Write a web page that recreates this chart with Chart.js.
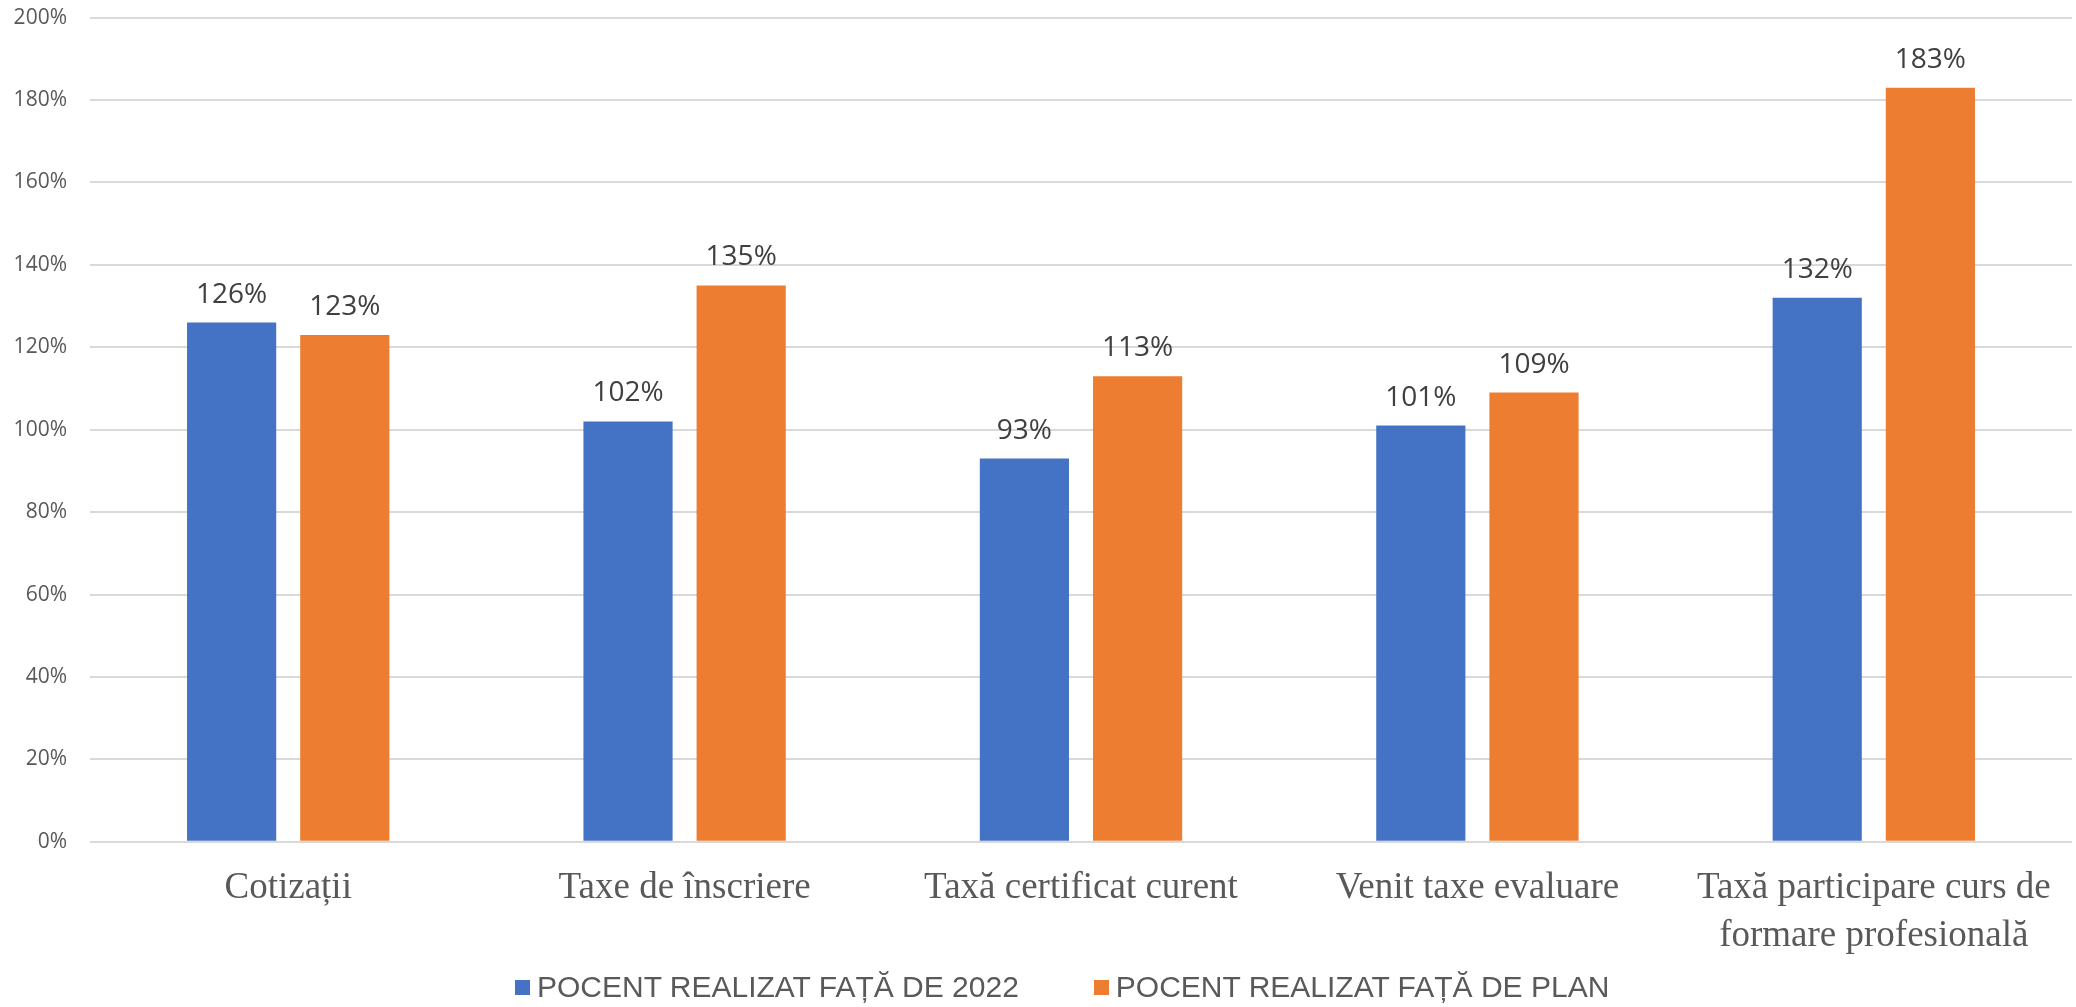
<!DOCTYPE html>
<html>
<head>
<meta charset="utf-8">
<script src="https://cdn.jsdelivr.net/npm/chart.js@4.4.1/dist/chart.umd.min.js"></script>
<style>
  html, body { margin: 0; padding: 0; background: #fff; overflow: hidden; }
  #wrap { position: relative; width: 2076px; height: 1007px; overflow: hidden; }
  #zona { position: absolute; left: 0; top: -18px; width: 2076px; height: 1025px; }
  #legenda { position: absolute; left: 515px; top: 970px; display: flex; align-items: center;
    font-family: "Liberation Sans", Arial, sans-serif; font-size: 30px; color: #595959; white-space: nowrap; }
  #legenda .item { display: flex; align-items: center; margin-right: 75px; }
  #legenda .box { width: 15px; height: 15px; margin-right: 7px; }
</style>
</head>
<body>
<div id="wrap">
  <div id="zona"><canvas id="myChart"></canvas></div>
  <div id="legenda"></div>
</div>
<script>
// date
let categorii = [
  'Cotizații',
  'Taxe de înscriere',
  'Taxă certificat curent',
  'Venit taxe evaluare',
  ['Taxă participare curs de', 'formare profesională']
]
let fata2022 = [126, 102, 93, 101, 132]
let fataPlan = [123, 135, 113, 109, 183]
let serii = ['POCENT REALIZAT FAȚĂ DE 2022', 'POCENT REALIZAT FAȚĂ DE PLAN']
let culori = ['#4472c4', '#ed7d31']

// etichete deasupra barelor
let eticheteValori = {
  id: 'eticheteValori',
  afterDatasetsDraw: function (chart) {
    let ctx = chart.ctx
    ctx.save()
    ctx.font = '28px "Open Sans"'
    ctx.fillStyle = '#404040'
    ctx.textAlign = 'center'
    ctx.textBaseline = 'alphabetic'
    chart.data.datasets.forEach(function (ds, i) {
      chart.getDatasetMeta(i).data.forEach(function (bar, j) {
        ctx.fillText(ds.data[j] + '%', bar.x, bar.y - 20)
      })
    })
    ctx.restore()
  }
}

const data = {
  labels: categorii,
  datasets: [{
    label: serii[0],
    data: fata2022,
    backgroundColor: culori[0]
  }, {
    label: serii[1],
    data: fataPlan,
    backgroundColor: culori[1]
  }]
}

let miGrafico = new Chart('myChart', {
  type: 'bar',
  data: data,
  plugins: [eticheteValori],
  options: {
    responsive: true,
    maintainAspectRatio: false,
    animation: false,
    categoryPercentage: 0.571,
    barPercentage: 0.788,
    layout: { padding: { left: 0, right: 4, top: 0, bottom: 33 } },
    plugins: {
      tooltip: { enabled: false },
      legend: { display: false }
    },
    scales: {
      y: {
        min: 0,
        max: 200,
        afterFit: function (scale) { scale.width = 90 },
        ticks: {
          stepSize: 20,
          padding: 23,
          color: '#595959',
          font: { family: '"Open Sans"', size: 21 },
          callback: function (v) { return v + '%' }
        },
        grid: { color: '#d9d9d9', lineWidth: 2, drawTicks: false },
        border: { display: false }
      },
      x: {
        ticks: {
          padding: 14,
          color: '#595959',
          maxRotation: 0,
          font: { family: '"Liberation Serif", "Times New Roman"', size: 37, lineHeight: 1.3 }
        },
        grid: { display: false },
        border: { display: false }
      }
    }
  }
})

// legenda sub grafic
let legenda = document.querySelector('#legenda')
serii.forEach(function (s, i) {
  let item = document.createElement('div')
  item.className = 'item'
  item.innerHTML = '<span class="box" style="background:' + culori[i] + '"></span><span>' + s + '</span>'
  legenda.appendChild(item)
})
</script>
</body>
</html>
